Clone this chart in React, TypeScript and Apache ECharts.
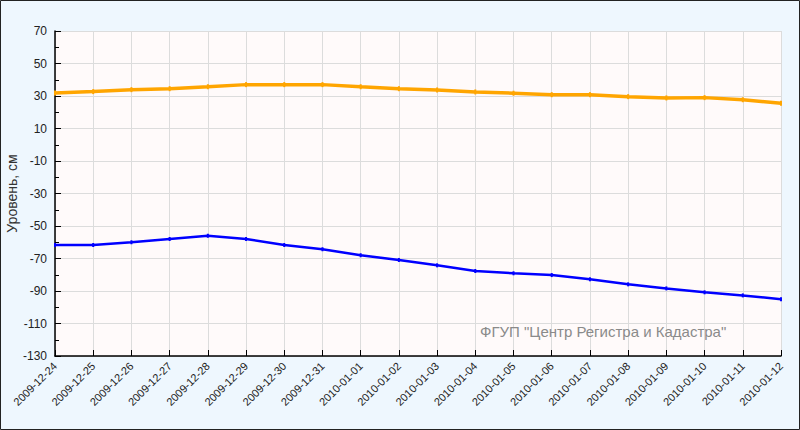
import React, { useEffect, useRef } from "react";
import * as echarts from "echarts";

const dates = [
  "2009-12-24", "2009-12-25", "2009-12-26", "2009-12-27", "2009-12-28",
  "2009-12-29", "2009-12-30", "2009-12-31", "2010-01-01", "2010-01-02",
  "2010-01-03", "2010-01-04", "2010-01-05", "2010-01-06", "2010-01-07",
  "2010-01-08", "2010-01-09", "2010-01-10", "2010-01-11", "2010-01-12",
];

const orangeLevel = [
  31.8, 32.7, 33.9, 34.5, 35.7, 37, 37, 37, 35.7, 34.5,
  33.7, 32.5, 31.7, 30.8, 30.8, 29.6, 28.8, 29, 27.7, 25.5,
];

const blueLevel = [
  -61.7, -61.7, -60, -58, -56, -58, -61.7, -64.3, -68, -70.9,
  -74.2, -77.7, -79.1, -80.2, -82.8, -85.9, -88.4, -90.8, -92.7, -95.1,
];

const yMin = -130;
const yMax = 70;
const yStep = 20;

const yName = "Уровень, см";
const watermark = "ФГУП \"Центр Регистра и Кадастра\"";

export default function App() {
  const ref = useRef<HTMLDivElement>(null);

  useEffect(() => {
    if (!ref.current) return;
    const chart = echarts.init(ref.current, null, { renderer: "svg" });
    const font = "Liberation Sans, Arial, sans-serif";
    chart.setOption({
      animation: false,
      backgroundColor: "#eef7fe",
      textStyle: { fontFamily: font },
      grid: {
        left: 55,
        right: 19,
        top: 31,
        bottom: 74,
        containLabel: false,
        outerBoundsMode: "none",
        show: true,
        backgroundColor: "#fffafa",
        borderWidth: 0,
      },
      xAxis: {
        type: "category",
        data: dates,
        boundaryGap: false,
        axisLine: { onZero: false, lineStyle: { color: "#000", width: 1.5 } },
        axisTick: { inside: true, length: 6, lineStyle: { color: "#000" } },
        axisLabel: {
          rotate: 45,
          fontSize: 11,
          color: "#222",
          fontFamily: font,
          interval: 0,
          margin: 8,
        },
        splitLine: { show: true, lineStyle: { color: "#dcdcdc", width: 1 } },
      },
      yAxis: {
        type: "value",
        min: yMin,
        max: yMax,
        interval: yStep,
        name: yName,
        nameLocation: "middle",
        nameRotate: 90,
        nameGap: 36,
        nameMoveOverlap: false,
        nameTextStyle: { fontSize: 14, color: "#333", fontFamily: font },
        axisLine: { show: true, onZero: false, lineStyle: { color: "#000", width: 1.5 } },
        axisTick: { show: true, inside: true, length: 6, lineStyle: { color: "#000" } },
        minorTick: { show: true, splitNumber: 2, length: 4, lineStyle: { color: "#000" } },
        axisLabel: { fontSize: 12, color: "#222", fontFamily: font, margin: 8 },
        splitLine: { show: true, lineStyle: { color: "#dcdcdc", width: 1 } },
      },
      series: [
        {
          type: "line",
          data: orangeLevel,
          symbol: "rect",
          symbolSize: [2, 5],
          itemStyle: { color: "#ffa500" },
          lineStyle: { color: "#ffa500", width: 3.5 },
        },
        {
          type: "line",
          data: blueLevel,
          symbol: "rect",
          symbolSize: [2, 4],
          itemStyle: { color: "#0000ff" },
          lineStyle: { color: "#0000ff", width: 2.5 },
        },
      ],
      graphic: [
        {
          type: "text",
          left: 480,
          top: 324,
          style: {
            text: watermark,
            fill: "#8a8a8a",
            font: "15px Liberation Sans, Arial, sans-serif",
          },
          z: 10,
        },
        {
          type: "rect",
          shape: { x: 0.5, y: 0.5, width: 799, height: 429 },
          style: { fill: "none", stroke: "#222", lineWidth: 1 },
          z: 20,
        },
      ],
    });
    return () => chart.dispose();
  }, []);

  return (
    <div
      ref={ref}
      style={{ position: "fixed", left: 0, top: 0, width: 800, height: 430 }}
    />
  );
}
